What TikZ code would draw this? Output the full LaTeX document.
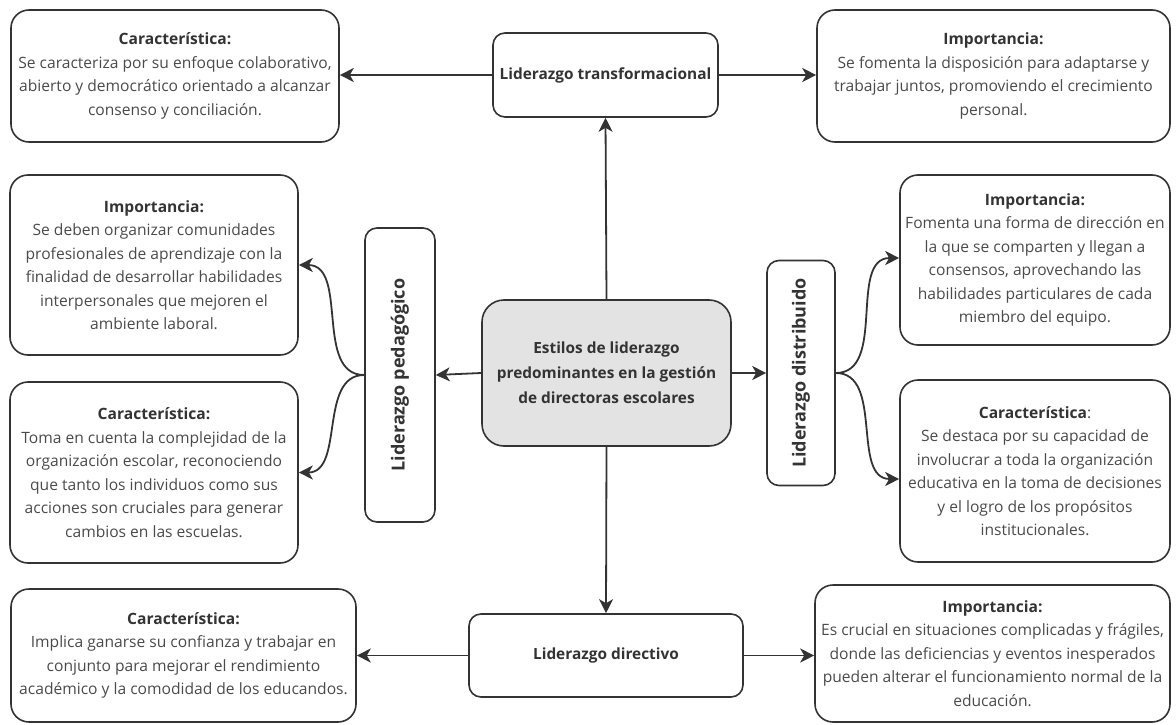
\documentclass[tikz,border=0pt]{standalone}
\usepackage{fontspec}
\setmainfont{Open Sans}
\usetikzlibrary{arrows.meta,positioning}
\definecolor{linea}{HTML}{333333}
\definecolor{texto}{HTML}{4A4A4A}
\definecolor{centro}{HTML}{E3E3E3}
\newcommand{\titulo}[1]{{\color{linea}\bfseries #1}}
\tikzstyle{caja} = [draw=linea, line width=1.6pt, rectangle, rounded corners=18pt, align=center, text=texto, font=\fontsize{15.6}{23.5}\selectfont, inner sep=2pt]
\tikzstyle{estilo} = [draw=linea, line width=1.6pt, rectangle, rounded corners=12pt, align=center, text=linea, font=\bfseries\fontsize{15.4}{25}\selectfont, inner sep=3pt]
\tikzstyle{vertical} = [estilo, rotate=90, font=\bfseries\fontsize{18}{22}\selectfont]
\tikzstyle{flecha} = [draw=linea, line width=1.8pt, -{Stealth[length=14pt,width=14pt,inset=4pt]}]

\begin{document}
\begin{tikzpicture}[x=1pt, y=-1pt]
\useasboundingbox (0,0) rectangle (1176,725);
% fila superior
\node [caja, minimum width=328pt, minimum height=132pt] (carTrans) at (175,76) {\titulo{Característica:}\\Se caracteriza por su enfoque colaborativo,\\abierto y democrático orientado a alcanzar\\consenso y conciliación.};
\node [estilo, minimum width=225pt, minimum height=84pt] (liderTrans) at (605.5,75) {Liderazgo transformacional};
\node [caja, minimum width=353pt, minimum height=132pt] (impTrans) at (993.5,76) {\titulo{Importancia:}\\Se fomenta la disposición para adaptarse y\\trabajar juntos, promoviendo el crecimiento\\personal.};
% centro
\node [estilo, fill=centro, rounded corners=22pt, minimum width=249pt, minimum height=146pt] (estilos) at (606.5,373) {Estilos de liderazgo\\predominantes en la gestión\\de directoras escolares};
\node [vertical, minimum width=294pt, minimum height=70pt] (liderPed) at (400,375) {Liderazgo pedagógico};
\node [vertical, minimum width=225pt, minimum height=68pt] (liderDist) at (801,373) {Liderazgo distribuido};
\node [caja, minimum width=288pt, minimum height=180pt] (impPed) at (154,265) {\titulo{Importancia:}\\Se deben organizar comunidades\\profesionales de aprendizaje con la\\finalidad de desarrollar habilidades\\interpersonales que mejoren el\\ambiente laboral.};
\node [caja, minimum width=288pt, minimum height=181pt] (carPed) at (154,472.5) {\titulo{Característica:}\\Toma en cuenta la complejidad de la\\organización escolar, reconociendo\\que tanto los individuos como sus\\acciones son cruciales para generar\\cambios en las escuelas.};
\node [caja, minimum width=270pt, minimum height=170pt] (impDist) at (1035,260) {\titulo{Importancia:}\\Fomenta una forma de dirección en\\la que se comparten y llegan a\\consensos, aprovechando las\\habilidades particulares de cada\\miembro del equipo.};
\node [caja, minimum width=270pt, minimum height=182pt] (carDist) at (1035,471) {\titulo{Característica}:\\Se destaca por su capacidad de\\involucrar a toda la organización\\educativa en la toma de decisiones\\y el logro de los propósitos\\institucionales.};
% fila inferior
\node [caja, minimum width=345pt, minimum height=133pt] (carDir) at (183.5,655.5) {\titulo{Característica:}\\Implica ganarse su confianza y trabajar en\\conjunto para mejorar el rendimiento\\académico y la comodidad de los educandos.};
\node [estilo, minimum width=274pt, minimum height=83pt] (liderDir) at (606,655.5) {Liderazgo directivo};
\node [caja, minimum width=355pt, minimum height=137pt] (impDir) at (992.5,653.5) {\titulo{Importancia:}\\Es crucial en situaciones complicadas y frágiles,\\donde las deficiencias y eventos inesperados\\pueden alterar el funcionamiento normal de la\\educación.};
% conectores
\draw [flecha] (liderTrans.west) -- (carTrans.east |- liderTrans.west);
\draw [flecha] (liderTrans.east) -- (impTrans.west |- liderTrans.east);
\draw [flecha] (estilos.north) -- (liderTrans.south);
\draw [flecha] (estilos.south) -- (liderDir.north);
\draw [flecha] (estilos.west) -- (liderPed.south);
\draw [flecha] (estilos.east) -- (liderDist.north);
\draw [flecha] (liderPed.north) to[out=180, in=0] (impPed.east);
\draw [flecha] (liderPed.north) to[out=180, in=0] (carPed.east);
\draw [flecha] (liderDist.south) to[out=0, in=180] ([yshift=2pt]impDist.west);
\draw [flecha] (liderDist.south) to[out=0, in=180] ([yshift=-8pt]carDist.west);
\draw [flecha] (liderDir.west) -- (carDir.east |- liderDir.west);
\draw [flecha] (liderDir.east) -- (impDir.west |- liderDir.east);
\end{tikzpicture}
\end{document}
